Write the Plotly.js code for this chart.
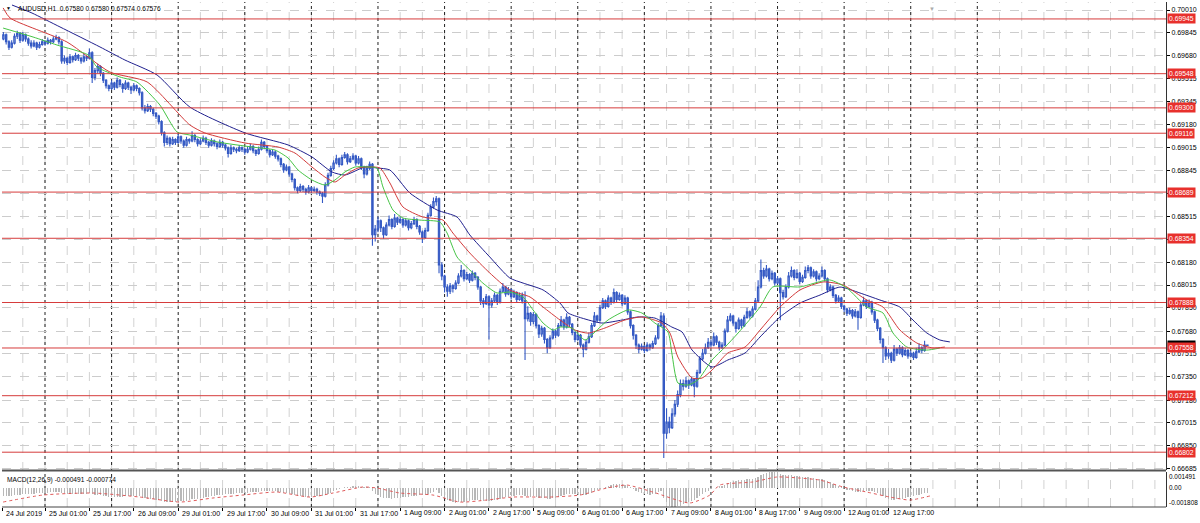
<!DOCTYPE html>
<html><head><meta charset="utf-8">
<script src="https://cdn.plot.ly/plotly-3.0.1.min.js"></script>
<style>html,body{margin:0;padding:0;background:#fff;}#chart{width:1200px;height:523px;}</style>
</head><body><div id="chart"></div>
<script>
// ---- H1 candles, bar index 0 = 24 Jul 2019 09:00 ----
const barOpen = [
0.6982,0.6980,0.6983,0.6978,0.6974,0.6977,0.6982,0.6984,0.6979,0.6983,
0.6980,0.6977,0.6975,0.6977,0.6974,0.6976,0.6978,0.6977,0.6979,0.6978,
0.6980,0.6981,0.6978,0.6964,0.6966,0.6963,0.6967,0.6965,0.6968,0.6966,
0.6964,0.6967,0.6966,0.6970,0.6952,0.6957,0.6960,0.6955,0.6950,0.6946,
0.6944,0.6948,0.6945,0.6950,0.6947,0.6944,0.6948,0.6945,0.6943,0.6946,
0.6944,0.6941,0.6930,0.6928,0.6931,0.6929,0.6926,0.6924,0.6920,0.6912,
0.6905,0.6908,0.6904,0.6907,0.6905,0.6909,0.6906,0.6903,0.6907,0.6906,
0.6910,0.6907,0.6904,0.6906,0.6908,0.6905,0.6903,0.6906,0.6904,0.6902,
0.6905,0.6903,0.6901,0.6897,0.6901,0.6900,0.6899,0.6901,0.6900,0.6898,
0.6900,0.6902,0.6899,0.6897,0.6900,0.6905,0.6902,0.6899,0.6896,0.6898,
0.6895,0.6893,0.6889,0.6885,0.6887,0.6882,0.6878,0.6872,0.6870,0.6873,
0.6871,0.6869,0.6872,0.6870,0.6871,0.6869,0.6868,0.6866,0.6874,0.6881,
0.6886,0.6890,0.6893,0.6889,0.6894,0.6896,0.6891,0.6893,0.6895,0.6890,
0.6893,0.6887,0.6882,0.6886,0.6889,0.6838,0.6842,0.6848,0.6843,0.6838,
0.6845,0.6849,0.6844,0.6850,0.6847,0.6849,0.6845,0.6848,0.6843,0.6846,
0.6849,0.6844,0.6840,0.6836,0.6841,0.6852,0.6858,0.6862,0.6864,0.6816,
0.6808,0.6800,0.6797,0.6801,0.6799,0.6803,0.6808,0.6812,0.6806,0.6809,
0.6805,0.6810,0.6807,0.6800,0.6790,0.6788,0.6793,0.6787,0.6790,0.6794,
0.6789,0.6797,0.6800,0.6795,0.6798,0.6793,0.6796,0.6791,0.6794,0.6790,
0.6777,0.6781,0.6775,0.6780,0.6772,0.6766,0.6770,0.6762,0.6756,0.6763,
0.6768,0.6765,0.6772,0.6776,0.6771,0.6778,0.6773,0.6767,0.6762,0.6765,
0.6758,0.6755,0.6760,0.6764,0.6772,0.6779,0.6776,0.6785,0.6790,0.6786,
0.6792,0.6789,0.6796,0.6791,0.6794,0.6788,0.6792,0.6782,0.6772,0.6765,
0.6758,0.6755,0.6757,0.6754,0.6758,0.6756,0.6759,0.6763,0.6772,0.6779,
0.6694,0.6702,0.6698,0.6708,0.6715,0.6722,0.6730,0.6728,0.6732,0.6729,
0.6733,0.6728,0.6738,0.6748,0.6752,0.6756,0.6760,0.6758,0.6764,0.6760,
0.6756,0.6758,0.6768,0.6776,0.6779,0.6774,0.6770,0.6776,0.6772,0.6778,
0.6782,0.6779,0.6784,0.6790,0.6800,0.6812,0.6808,0.6813,0.6806,0.6810,
0.6803,0.6806,0.6796,0.6793,0.6800,0.6808,0.6812,0.6807,0.6810,0.6804,
0.6807,0.6812,0.6814,0.6808,0.6811,0.6806,0.6808,0.6812,0.6806,0.6798,
0.6800,0.6794,0.6790,0.6792,0.6786,0.6784,0.6781,0.6783,0.6779,0.6782,
0.6778,0.6787,0.6790,0.6786,0.6789,0.6782,0.6776,0.6770,0.6762,0.6756,
0.6750,0.6752,0.6747,0.6755,0.6752,0.6756,0.6751,0.6754,0.6750,0.6752,
0.6749,0.6753,0.6756,0.6754,0.67580];
const barHigh = [
0.6985,0.6985,0.6984,0.6979,0.6979,0.6984,0.6986,0.6985,0.6985,0.6984,
0.6981,0.6979,0.6979,0.6978,0.6978,0.6980,0.6979,0.6981,0.6980,0.6982,
0.6983,0.6982,0.6979,0.6968,0.6967,0.6969,0.6968,0.6970,0.6969,0.6967,
0.6969,0.6968,0.6973,0.6971,0.6959,0.6962,0.6961,0.6956,0.6951,0.6947,
0.6950,0.6949,0.6952,0.6951,0.6948,0.6950,0.6949,0.6946,0.6948,0.6947,
0.6945,0.6942,0.6932,0.6933,0.6932,0.6930,0.6927,0.6925,0.6921,0.6913,
0.6910,0.6909,0.6909,0.6908,0.6911,0.6910,0.6907,0.6909,0.6908,0.6913,
0.6911,0.6908,0.6908,0.6910,0.6909,0.6906,0.6908,0.6907,0.6905,0.6907,
0.6906,0.6904,0.6902,0.6903,0.6902,0.6901,0.6903,0.6902,0.6901,0.6902,
0.6904,0.6903,0.6900,0.6902,0.6907,0.6906,0.6903,0.6900,0.6900,0.6899,
0.6896,0.6894,0.6890,0.6889,0.6888,0.6883,0.6879,0.6873,0.6875,0.6874,
0.6872,0.6874,0.6873,0.6873,0.6872,0.6870,0.6869,0.6876,0.6883,0.6888,
0.6892,0.6896,0.6894,0.6896,0.6898,0.6897,0.6895,0.6897,0.6896,0.6895,
0.6894,0.6888,0.6888,0.6891,0.6890,0.6845,0.6851,0.6849,0.6844,0.6847,
0.6852,0.6850,0.6853,0.6851,0.6851,0.6850,0.6850,0.6849,0.6848,0.6851,
0.6850,0.6845,0.6841,0.6843,0.6854,0.6860,0.6865,0.6866,0.6865,0.6818,
0.6809,0.6802,0.6803,0.6802,0.6805,0.6810,0.6816,0.6813,0.6811,0.6810,
0.6812,0.6811,0.6808,0.6801,0.6792,0.6795,0.6794,0.6792,0.6796,0.6795,
0.6799,0.6803,0.6801,0.6800,0.6799,0.6798,0.6797,0.6796,0.6796,0.6797,
0.6786,0.6782,0.6782,0.6781,0.6773,0.6772,0.6771,0.6763,0.6765,0.6770,
0.6769,0.6774,0.6779,0.6777,0.6781,0.6779,0.6774,0.6768,0.6767,0.6766,
0.6759,0.6762,0.6767,0.6774,0.6782,0.6780,0.6787,0.6792,0.6791,0.6794,
0.6793,0.6799,0.6797,0.6796,0.6795,0.6794,0.6793,0.6783,0.6773,0.6766,
0.6759,0.6759,0.6758,0.6760,0.6759,0.6761,0.6765,0.6774,0.6782,0.6781,
0.6712,0.6706,0.6712,0.6718,0.6725,0.6733,0.6733,0.6735,0.6733,0.6735,
0.6734,0.6740,0.6750,0.6755,0.6759,0.6763,0.6762,0.6767,0.6765,0.6761,
0.6760,0.6770,0.6779,0.6781,0.6780,0.6775,0.6778,0.6777,0.6780,0.6785,
0.6783,0.6786,0.6792,0.6805,0.6820,0.6814,0.6816,0.6814,0.6812,0.6811,
0.6808,0.6807,0.6798,0.6802,0.6811,0.6815,0.6813,0.6813,0.6811,0.6809,
0.6815,0.6816,0.6815,0.6813,0.6812,0.6810,0.6815,0.6813,0.6807,0.6802,
0.6801,0.6795,0.6794,0.6793,0.6787,0.6785,0.6785,0.6784,0.6784,0.6783,
0.6789,0.6793,0.6791,0.6791,0.6790,0.6783,0.6777,0.6771,0.6763,0.6757,
0.6755,0.6753,0.6758,0.6756,0.6758,0.6757,0.6756,0.6755,0.6754,0.6753,
0.6756,0.6759,0.6757,0.6761,0.67580];
const barLow = [
0.6978,0.6979,0.6976,0.6972,0.6973,0.6976,0.6980,0.6977,0.6978,0.6978,
0.6975,0.6973,0.6974,0.6972,0.6973,0.6975,0.6975,0.6976,0.6976,0.6977,
0.6979,0.6976,0.6962,0.6962,0.6961,0.6962,0.6963,0.6964,0.6964,0.6962,
0.6963,0.6964,0.6965,0.6948,0.6950,0.6955,0.6953,0.6948,0.6944,0.6942,
0.6943,0.6943,0.6944,0.6945,0.6941,0.6943,0.6943,0.6940,0.6942,0.6942,
0.6939,0.6928,0.6926,0.6927,0.6927,0.6924,0.6922,0.6918,0.6910,0.6902,
0.6903,0.6902,0.6903,0.6903,0.6904,0.6904,0.6901,0.6902,0.6904,0.6905,
0.6905,0.6902,0.6903,0.6905,0.6903,0.6901,0.6902,0.6902,0.6900,0.6901,
0.6901,0.6899,0.6894,0.6896,0.6898,0.6897,0.6898,0.6898,0.6896,0.6897,
0.6899,0.6897,0.6895,0.6896,0.6899,0.6900,0.6897,0.6894,0.6895,0.6893,
0.6891,0.6887,0.6883,0.6884,0.6880,0.6876,0.6870,0.6868,0.6869,0.6869,
0.6867,0.6868,0.6868,0.6869,0.6867,0.6866,0.6861,0.6865,0.6873,0.6880,
0.6885,0.6889,0.6887,0.6888,0.6893,0.6889,0.6890,0.6892,0.6888,0.6889,
0.6885,0.6879,0.6881,0.6885,0.6830,0.6833,0.6840,0.6840,0.6835,0.6837,
0.6844,0.6842,0.6843,0.6845,0.6846,0.6843,0.6844,0.6841,0.6842,0.6845,
0.6842,0.6838,0.6832,0.6835,0.6840,0.6851,0.6857,0.6859,0.6810,0.6805,
0.6796,0.6793,0.6795,0.6796,0.6798,0.6802,0.6807,0.6804,0.6805,0.6803,
0.6804,0.6805,0.6798,0.6787,0.6785,0.6787,0.6762,0.6785,0.6789,0.6787,
0.6788,0.6796,0.6793,0.6794,0.6791,0.6792,0.6789,0.6790,0.6788,0.6747,
0.6775,0.6772,0.6773,0.6770,0.6763,0.6764,0.6759,0.6752,0.6755,0.6762,
0.6763,0.6764,0.6771,0.6769,0.6770,0.6771,0.6765,0.6760,0.6761,0.6756,
0.6749,0.6754,0.6759,0.6763,0.6771,0.6774,0.6775,0.6784,0.6784,0.6785,
0.6787,0.6788,0.6789,0.6790,0.6786,0.6787,0.6780,0.6770,0.6762,0.6755,
0.6752,0.6754,0.6752,0.6753,0.6754,0.6755,0.6758,0.6762,0.6771,0.6676,
0.6690,0.6694,0.6697,0.6706,0.6713,0.6720,0.6725,0.6727,0.6726,0.6728,
0.6720,0.6727,0.6737,0.6747,0.6751,0.6755,0.6756,0.6757,0.6758,0.6754,
0.6755,0.6757,0.6767,0.6775,0.6772,0.6767,0.6769,0.6770,0.6771,0.6777,
0.6777,0.6778,0.6783,0.6789,0.6799,0.6806,0.6807,0.6804,0.6805,0.6801,
0.6802,0.6776,0.6791,0.6792,0.6799,0.6807,0.6805,0.6806,0.6802,0.6803,
0.6806,0.6810,0.6806,0.6807,0.6804,0.6805,0.6807,0.6804,0.6796,0.6797,
0.6792,0.6788,0.6789,0.6784,0.6782,0.6779,0.6780,0.6777,0.6778,0.6769,
0.6777,0.6786,0.6784,0.6785,0.6780,0.6774,0.6768,0.6759,0.6745,0.6747,
0.6748,0.6745,0.6746,0.6750,0.6751,0.6749,0.6750,0.6748,0.6749,0.6747,
0.6748,0.6752,0.6752,0.6753,0.67574];
const barClose = [
0.6980,0.6983,0.6978,0.6974,0.6977,0.6982,0.6984,0.6979,0.6983,0.6980,
0.6977,0.6975,0.6977,0.6974,0.6976,0.6978,0.6977,0.6979,0.6978,0.6980,
0.6981,0.6978,0.6964,0.6966,0.6963,0.6967,0.6965,0.6968,0.6966,0.6964,
0.6967,0.6966,0.6970,0.6952,0.6957,0.6960,0.6955,0.6950,0.6946,0.6944,
0.6948,0.6945,0.6950,0.6947,0.6944,0.6948,0.6945,0.6943,0.6946,0.6944,
0.6941,0.6930,0.6928,0.6931,0.6929,0.6926,0.6924,0.6920,0.6912,0.6905,
0.6908,0.6904,0.6907,0.6905,0.6909,0.6906,0.6903,0.6907,0.6906,0.6910,
0.6907,0.6904,0.6906,0.6908,0.6905,0.6903,0.6906,0.6904,0.6902,0.6905,
0.6903,0.6901,0.6897,0.6901,0.6900,0.6899,0.6901,0.6900,0.6898,0.6900,
0.6902,0.6899,0.6897,0.6900,0.6905,0.6902,0.6899,0.6896,0.6898,0.6895,
0.6893,0.6889,0.6885,0.6887,0.6882,0.6878,0.6872,0.6870,0.6873,0.6871,
0.6869,0.6872,0.6870,0.6871,0.6869,0.6868,0.6866,0.6874,0.6881,0.6886,
0.6890,0.6893,0.6889,0.6894,0.6896,0.6891,0.6893,0.6895,0.6890,0.6893,
0.6887,0.6882,0.6886,0.6889,0.6838,0.6842,0.6848,0.6843,0.6838,0.6845,
0.6849,0.6844,0.6850,0.6847,0.6849,0.6845,0.6848,0.6843,0.6846,0.6849,
0.6844,0.6840,0.6836,0.6841,0.6852,0.6858,0.6862,0.6864,0.6816,0.6808,
0.6800,0.6797,0.6801,0.6799,0.6803,0.6808,0.6812,0.6806,0.6809,0.6805,
0.6810,0.6807,0.6800,0.6790,0.6788,0.6793,0.6787,0.6790,0.6794,0.6789,
0.6797,0.6800,0.6795,0.6798,0.6793,0.6796,0.6791,0.6794,0.6790,0.6777,
0.6781,0.6775,0.6780,0.6772,0.6766,0.6770,0.6762,0.6756,0.6763,0.6768,
0.6765,0.6772,0.6776,0.6771,0.6778,0.6773,0.6767,0.6762,0.6765,0.6758,
0.6755,0.6760,0.6764,0.6772,0.6779,0.6776,0.6785,0.6790,0.6786,0.6792,
0.6789,0.6796,0.6791,0.6794,0.6788,0.6792,0.6782,0.6772,0.6765,0.6758,
0.6755,0.6757,0.6754,0.6758,0.6756,0.6759,0.6763,0.6772,0.6779,0.6694,
0.6702,0.6698,0.6708,0.6715,0.6722,0.6730,0.6728,0.6732,0.6729,0.6733,
0.6728,0.6738,0.6748,0.6752,0.6756,0.6760,0.6758,0.6764,0.6760,0.6756,
0.6758,0.6768,0.6776,0.6779,0.6774,0.6770,0.6776,0.6772,0.6778,0.6782,
0.6779,0.6784,0.6790,0.6800,0.6812,0.6808,0.6813,0.6806,0.6810,0.6803,
0.6806,0.6796,0.6793,0.6800,0.6808,0.6812,0.6807,0.6810,0.6804,0.6807,
0.6812,0.6814,0.6808,0.6811,0.6806,0.6808,0.6812,0.6806,0.6798,0.6800,
0.6794,0.6790,0.6792,0.6786,0.6784,0.6781,0.6783,0.6779,0.6782,0.6778,
0.6787,0.6790,0.6786,0.6789,0.6782,0.6776,0.6770,0.6762,0.6756,0.6750,
0.6752,0.6747,0.6755,0.6752,0.6756,0.6751,0.6754,0.6750,0.6752,0.6749,
0.6753,0.6756,0.6754,0.6758,0.67576];

// ---- Alligator lines (bar index, price) ----
const jawIdx = [4.1,11.3,21.4,35.8,44.8,56.4,68.2,88.1,103.6,112.2,119.4,124.1,131.3,135.6,140.3,147.5,157.3,164.5,169.1,176.3,183.5,188.3,195.5,201.6,204.5,209.5,216.7,224.0,229.7,235.8,241.9,245.6,249.2,256.4,262.1,268.3,273.7,280.9,288.1,295.3,302.5,309.7,316.9,324.1,328.8,333.8,338.5,342.1];
const jawVal = [0.70046,0.69988,0.69887,0.69742,0.69647,0.69538,0.69306,0.69118,0.69031,0.68944,0.68835,0.68813,0.68871,0.68864,0.68849,0.68682,0.68559,0.68508,0.68378,0.68218,0.68066,0.68029,0.67979,0.67884,0.67812,0.67775,0.67739,0.67761,0.67783,0.67775,0.67710,0.67674,0.67543,0.67420,0.67471,0.67522,0.67638,0.67783,0.67884,0.67942,0.68000,0.67957,0.67906,0.67855,0.67761,0.67667,0.67616,0.67602];
const teethIdx = [0.9,3.4,23.9,39.4,52.8,68.2,73.6,88.1,100.0,106.1,112.2,116.9,120.5,124.1,128.8,132.4,136.7,140.3,145.0,152.2,159.4,163.0,169.1,176.3,183.5,190.8,195.5,201.6,207.0,211.7,217.8,225.0,231.1,238.3,241.2,244.1,249.2,252.8,256.4,262.1,268.3,273.7,280.9,288.1,296.4,303.6,312.2,318.0,324.1,330.2,336.0,340.3];
const teethVal = [0.70025,0.69952,0.69778,0.69560,0.69488,0.69176,0.69118,0.69045,0.69016,0.68972,0.68871,0.68798,0.68762,0.68813,0.68864,0.68871,0.68864,0.68755,0.68581,0.68508,0.68486,0.68392,0.68247,0.68102,0.67979,0.67928,0.67855,0.67761,0.67688,0.67666,0.67703,0.67761,0.67783,0.67739,0.67667,0.67492,0.67340,0.67340,0.67398,0.67522,0.67565,0.67688,0.67855,0.67979,0.68037,0.68015,0.67906,0.67855,0.67688,0.67594,0.67558,0.67565];
const lipsIdx = [0.9,11.7,20.3,31.5,34.7,43.0,49.1,57.4,63.6,68.2,78.3,90.6,98.9,103.6,107.2,112.2,116.9,120.5,124.1,127.7,132.4,135.6,137.8,141.4,145.0,151.1,158.3,160.9,164.5,169.1,173.8,178.9,183.5,188.3,191.9,195.5,199.1,201.6,205.9,210.6,214.2,218.9,226.1,231.1,235.8,240.5,241.9,244.1,247.7,251.3,256.4,261.1,265.8,273.7,278.3,288.1,298.7,305.0,312.2,318.0,321.6,326.6,333.8,338.5];
const lipsVal = [0.69879,0.69814,0.69756,0.69684,0.69597,0.69524,0.69488,0.69321,0.69125,0.69103,0.69052,0.69016,0.68994,0.68936,0.68849,0.68777,0.68740,0.68777,0.68835,0.68871,0.68871,0.68864,0.68726,0.68559,0.68501,0.68486,0.68472,0.68392,0.68218,0.68124,0.68029,0.67957,0.67964,0.67928,0.67834,0.67739,0.67688,0.67710,0.67703,0.67616,0.67674,0.67761,0.67834,0.67812,0.67739,0.67674,0.67522,0.67304,0.67289,0.67326,0.67471,0.67565,0.67667,0.67855,0.68001,0.68001,0.68052,0.67993,0.67855,0.67812,0.67667,0.67565,0.67543,0.67558];

// ---- MACD(12,26,9): main histogram per bar, signal line ----
const macdMain = [
-0.00080,-0.00078,-0.00077,-0.00076,-0.00074,-0.00070,-0.00066,-0.00064,-0.00060,-0.00058,
-0.00057,-0.00056,-0.00054,-0.00053,-0.00051,-0.00049,-0.00047,-0.00045,-0.00043,-0.00040,
-0.00037,-0.00036,-0.00046,-0.00053,-0.00058,-0.00060,-0.00061,-0.00060,-0.00059,-0.00058,
-0.00056,-0.00054,-0.00050,-0.00060,-0.00066,-0.00068,-0.00071,-0.00075,-0.00080,-0.00084,
-0.00085,-0.00086,-0.00084,-0.00083,-0.00083,-0.00081,-0.00080,-0.00080,-0.00078,-0.00077,
-0.00078,-0.00088,-0.00097,-0.00102,-0.00106,-0.00110,-0.00113,-0.00117,-0.00124,-0.00132,
-0.00135,-0.00137,-0.00136,-0.00135,-0.00131,-0.00128,-0.00125,-0.00120,-0.00116,-0.00110,
-0.00106,-0.00102,-0.00097,-0.00092,-0.00088,-0.00084,-0.00079,-0.00075,-0.00072,-0.00067,
-0.00064,-0.00061,-0.00060,-0.00057,-0.00055,-0.00053,-0.00050,-0.00048,-0.00047,-0.00045,
-0.00042,-0.00041,-0.00040,-0.00038,-0.00033,-0.00031,-0.00031,-0.00032,-0.00032,-0.00033,
-0.00035,-0.00039,-0.00045,-0.00048,-0.00053,-0.00060,-0.00068,-0.00075,-0.00078,-0.00081,
-0.00084,-0.00083,-0.00083,-0.00081,-0.00080,-0.00079,-0.00078,-0.00070,-0.00058,-0.00045,
-0.00032,-0.00020,-0.00013,-0.00004,0.00004,0.00007,0.00010,0.00013,0.00013,0.00014,
0.00011,0.00006,0.00004,0.00004,-0.00030,-0.00055,-0.00070,-0.00083,-0.00095,-0.00099,
-0.00100,-0.00101,-0.00098,-0.00096,-0.00092,-0.00090,-0.00086,-0.00084,-0.00080,-0.00075,
-0.00073,-0.00072,-0.00072,-0.00068,-0.00058,-0.00046,-0.00035,-0.00025,-0.00052,-0.00077,
-0.00100,-0.00118,-0.00128,-0.00136,-0.00139,-0.00137,-0.00132,-0.00130,-0.00126,-0.00124,
-0.00118,-0.00114,-0.00114,-0.00120,-0.00124,-0.00122,-0.00123,-0.00120,-0.00114,-0.00111,
-0.00102,-0.00093,-0.00088,-0.00082,-0.00079,-0.00074,-0.00072,-0.00068,-0.00066,-0.00074,
-0.00077,-0.00082,-0.00081,-0.00085,-0.00092,-0.00093,-0.00098,-0.00105,-0.00104,-0.00098,
-0.00095,-0.00086,-0.00076,-0.00071,-0.00062,-0.00058,-0.00058,-0.00061,-0.00060,-0.00064,
-0.00067,-0.00064,-0.00058,-0.00047,-0.00033,-0.00024,-0.00010,0.00003,0.00010,0.00020,
0.00025,0.00033,0.00034,0.00036,0.00032,0.00031,0.00021,0.00005,-0.00012,-0.00030,
-0.00044,-0.00052,-0.00060,-0.00062,-0.00063,-0.00061,-0.00055,-0.00043,-0.00028,-0.00093,
-0.00136,-0.00170,-0.00181,-0.00180,-0.00176,-0.00167,-0.00157,-0.00146,-0.00135,-0.00123,
-0.00116,-0.00100,-0.00080,-0.00061,-0.00044,-0.00027,-0.00015,-0.00001,0.00009,0.00014,
0.00019,0.00030,0.00045,0.00058,0.00065,0.00066,0.00070,0.00071,0.00075,0.00080,
0.00082,0.00086,0.00093,0.00105,0.00123,0.00133,0.00143,0.00145,0.00148,0.00149,
0.00146,0.00134,0.00122,0.00117,0.00117,0.00118,0.00116,0.00114,0.00108,0.00104,
0.00103,0.00102,0.00097,0.00093,0.00086,0.00081,0.00079,0.00073,0.00061,0.00052,
0.00040,0.00027,0.00018,0.00005,-0.00006,-0.00017,-0.00024,-0.00033,-0.00037,-0.00043,
-0.00040,-0.00034,-0.00032,-0.00028,-0.00031,-0.00039,-0.00050,-0.00064,-0.00079,-0.00095,
-0.00104,-0.00113,-0.00111,-0.00110,-0.00104,-0.00101,-0.00095,-0.00090,-0.00084,-0.00080,
-0.00072,-0.00064,-0.00058,-0.00051,-0.000491];
const sigIdx = [0.9,15.3,33.3,50.2,64.6,76.5,87.3,99.6,111.5,119.8,130.6,135.6,143.9,155.8,165.5,175.3,184.6,198.0,208.8,218.5,225.7,235.1,248.4,255.6,259.2,271.1,279.8,288.1,295.3,303.6,312.2,320.5,327.7,334.9];
const sigVal = [-0.00134,-0.00068,-0.00049,-0.00087,-0.00134,-0.00096,-0.00068,-0.00040,-0.00087,-0.00049,0.00008,-0.00002,-0.00049,-0.00068,-0.00134,-0.00115,-0.00087,-0.00087,-0.00068,-0.00002,0.00026,-0.00040,-0.00143,-0.00068,0.00026,0.00055,0.00102,0.00092,0.00073,0.00008,-0.00040,-0.00087,-0.00115,-0.00077];

// ---- axes text ----
const timeTickIdx = [0.6,16,32,48,64,80,96,112,128,144,160,176,192,208,224,240,256,272,288,304,320];
const timeTickText = ['24 Jul 2019','25 Jul 01:00','25 Jul 17:00','26 Jul 09:00','29 Jul 01:00','29 Jul 17:00','30 Jul 09:00','31 Jul 01:00','31 Jul 17:00','1 Aug 09:00','2 Aug 01:00','2 Aug 17:00','5 Aug 09:00','6 Aug 01:00','6 Aug 17:00','7 Aug 09:00','8 Aug 01:00','8 Aug 17:00','9 Aug 09:00','12 Aug 01:00','12 Aug 17:00'];
const priceTicks = [0.70010,0.69845,0.69680,0.69515,0.69345,0.69180,0.69015,0.68845,0.68680,0.68515,0.68345,0.68180,0.68015,0.67850,0.67680,0.67515,0.67350,0.67180,0.67015,0.66850,0.66685];
const priceTickText = ['0.70010','0.69845','0.69680','0.69515','0.69345','0.69180','0.69015','0.68845','','0.68515','','0.68180','0.68015','0.67850','0.67680','0.67515','0.67350','0.67180','0.67015','0.66850','0.66685'];
const levelPrices = [0.69945,0.69548,0.69300,0.69116,0.68689,0.68354,0.67888,0.67558,0.67212,0.66802];
const lastPrice = 0.67576;
const macdLabels = ['0.001491','0.00','-0.001808'];
const headerText = 'AUDUSD,H1  0.67580 0.67580 0.67574 0.67576';
const macdText = 'MACD(12,26,9) -0.000491 -0.000774';

const xIdx = barClose.map((_, i) => i);
const FONT = 'Liberation Sans, Arial, sans-serif';

const traces = [
  {type:'bar', x:xIdx, y:macdMain, xaxis:'x2', yaxis:'y2', width:0.45, marker:{color:'#b8b8b8', line:{width:0}}, hoverinfo:'skip', showlegend:false},
  {type:'scatter', mode:'lines', x:sigIdx, y:sigVal, xaxis:'x2', yaxis:'y2', line:{color:'#e05a5a', width:1, dash:'dot', shape:'spline', smoothing:0.6}, hoverinfo:'skip', showlegend:false},
  {type:'candlestick', x:xIdx, open:barOpen, high:barHigh, low:barLow, close:barClose,
   xaxis:'x', yaxis:'y', hoverinfo:'skip', showlegend:false,
   increasing:{line:{color:'#3459c4', width:1.1}, fillcolor:'#c3d0f0'},
   decreasing:{line:{color:'#3459c4', width:1.1}, fillcolor:'#3459c4'}},
  {type:'scatter', mode:'lines', x:jawIdx, y:jawVal, xaxis:'x', yaxis:'y', line:{color:'#20208e', width:1, shape:'spline', smoothing:0.6}, hoverinfo:'skip', showlegend:false},
  {type:'scatter', mode:'lines', x:teethIdx, y:teethVal, xaxis:'x', yaxis:'y', line:{color:'#d23a3a', width:1, shape:'spline', smoothing:0.6}, hoverinfo:'skip', showlegend:false},
  {type:'scatter', mode:'lines', x:lipsIdx, y:lipsVal, xaxis:'x', yaxis:'y', line:{color:'#46c446', width:1, shape:'spline', smoothing:0.6}, hoverinfo:'skip', showlegend:false}
];

const shapes = [];
for (let g = 0; g <= 416; g += 8) {
  shapes.push({type:'line', xref:'x', yref:'paper', x0:g, x1:g, y0:0, y1:1, layer:'below', line:{color:'#d2d2d2', width:1, dash:'dash'}});
}
for (let s = 16; s <= 352; s += 24) {
  shapes.push({type:'line', xref:'x', yref:'paper', x0:s, x1:s, y0:0, y1:1, layer:'below', line:{color:'#222', width:1, dash:'dot'}});
}
levelPrices.forEach(p => shapes.push({type:'line', xref:'paper', x0:0, x1:1, yref:'y', y0:p, y1:p, layer:'above', line:{color:'#d63c3c', width:1}}));
shapes.push({type:'line', xref:'paper', yref:'paper', x0:0, x1:1, y0:0.0723, y1:0.0723, line:{color:'#555', width:2}});
shapes.push({type:'line', xref:'paper', yref:'paper', x0:0, x1:1, y0:0, y1:0, line:{color:'#444', width:1}});

const annotations = [];
annotations.push({xref:'paper', yref:'paper', x:0.012, y:0.988, xanchor:'left', yanchor:'middle', showarrow:false, text:headerText, font:{family:FONT, size:6.6, color:'#000'}});
annotations.push({xref:'paper', yref:'paper', x:0.002, y:0.988, xanchor:'left', yanchor:'middle', showarrow:false, text:'▼', font:{family:FONT, size:5, color:'#000'}});
annotations.push({xref:'paper', yref:'paper', x:0.799, y:0.997, xanchor:'center', yanchor:'top', showarrow:false, text:'▼', font:{family:FONT, size:6, color:'#aaa'}});
annotations.push({xref:'paper', yref:'paper', x:0.003, y:0.053, xanchor:'left', yanchor:'middle', showarrow:false, text:macdText, font:{family:FONT, size:6.6, color:'#000'}});
const macdLabelY = [0.060, 0.0382, 0.0095];
macdLabels.forEach((t, k) => annotations.push({xref:'paper', yref:'paper', x:1, xshift:1, y:macdLabelY[k], xanchor:'left', yanchor:'middle', showarrow:false, text:t, font:{family:FONT, size:6.4, color:'#000'}}));
timeTickIdx.forEach((v, k) => annotations.push({xref:'x2', yref:'paper', x:v, xshift:2, y:-0.0119, xanchor:'left', yanchor:'middle', showarrow:false, text:timeTickText[k], font:{family:FONT, size:7, color:'#000'}}));
annotations.push({xref:'paper', yref:'y', x:1, xshift:1, y:lastPrice, xanchor:'left', yanchor:'middle', showarrow:false, text:lastPrice.toFixed(5), bgcolor:'#000', borderpad:1, font:{family:FONT, size:6.8, color:'#fff'}});
levelPrices.forEach(p => annotations.push({xref:'paper', yref:'y', x:1, xshift:1, y:p, xanchor:'left', yanchor:'middle', showarrow:false, text:p.toFixed(5), bgcolor:'#e8302c', borderpad:1, font:{family:FONT, size:6.8, color:'#fff'}}));

const layout = {
  width:1200, height:523,
  margin:{l:2, r:34, t:2, b:16, pad:0},
  paper_bgcolor:'#ffffff', plot_bgcolor:'#ffffff',
  showlegend:false, bargap:0,
  xaxis:{domain:[0,1], range:[0.5,420], anchor:'y', showticklabels:false, showgrid:false, zeroline:false, ticks:'', rangeslider:{visible:false}, fixedrange:true},
  xaxis2:{domain:[0,1], range:[0.5,420], anchor:'y2', matches:'x', showgrid:false, zeroline:false,
          tickmode:'array', tickvals:timeTickIdx, ticks:'outside', ticklen:3, tickcolor:'#000', showticklabels:false, showline:false},
  yaxis:{domain:[0.0733,1], range:[0.66673,0.70068], side:'right', anchor:'x', tickmode:'array', tickvals:priceTicks,
         ticktext:priceTickText, ticks:'outside', ticklen:3, tickcolor:'#000',
         tickfont:{family:FONT, size:7, color:'#000'}, showline:true, linecolor:'#333', linewidth:1,
         showgrid:true, gridcolor:'#cccccc', griddash:'dash', zeroline:false},
  yaxis2:{domain:[0,0.0693], range:[-0.001808,0.001491], side:'right', anchor:'x2', showticklabels:false, ticks:'',
          showline:true, linecolor:'#333', linewidth:1, showgrid:false, zeroline:false},
  shapes:shapes, annotations:annotations
};

Plotly.newPlot('chart', traces, layout, {staticPlot:true, displayModeBar:false});
</script>
</body></html>
